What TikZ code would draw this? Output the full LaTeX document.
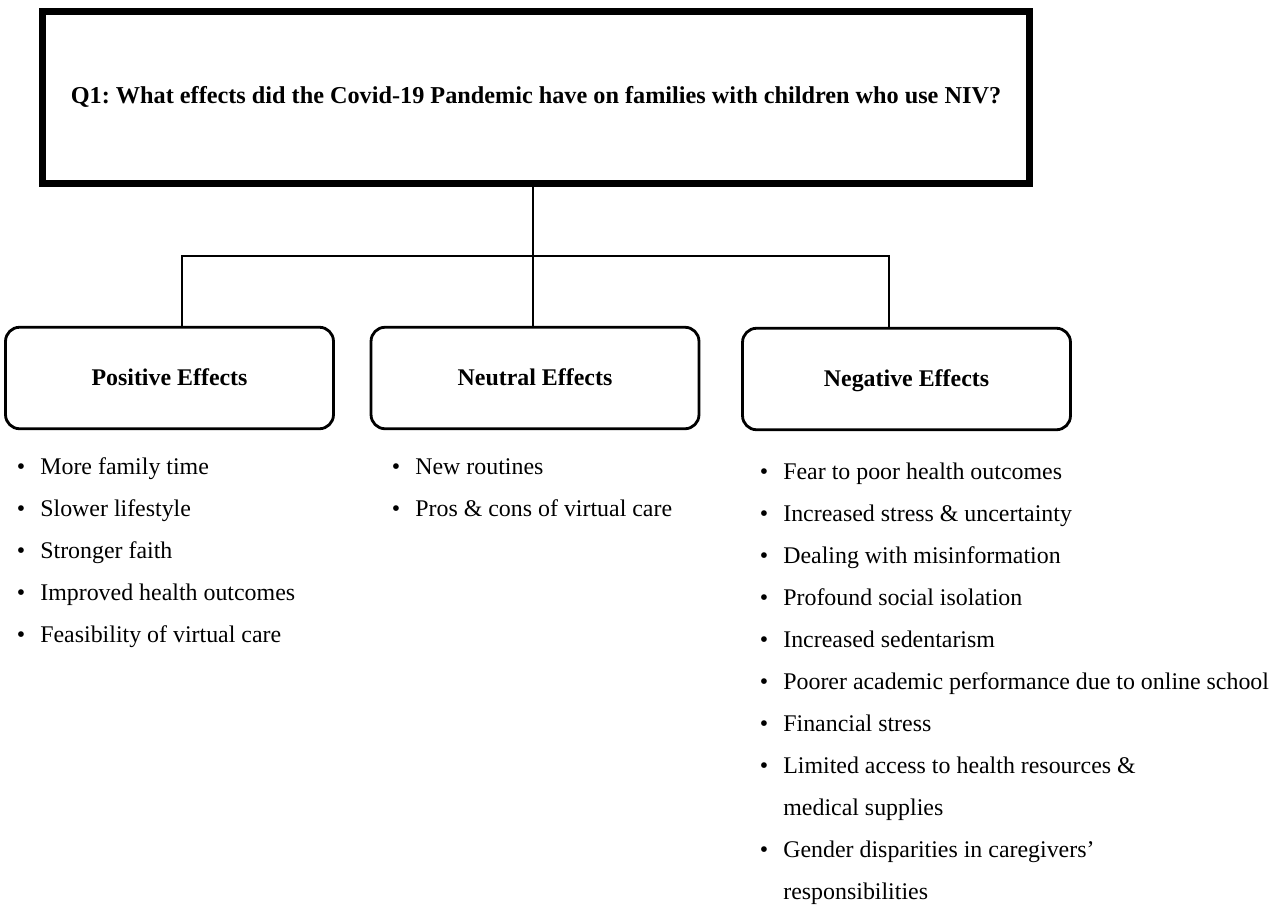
\documentclass[tikz,border=0pt]{standalone}
\usepackage{fontspec}
\setmainfont{Liberation Serif}
\usepackage{tikz}

\tikzset{
  txt/.style={font=\fontsize{13.6}{16}\selectfont},
  qbox/.style={font=\fontsize{13.8}{16}\selectfont,draw,line width=4pt,minimum width=19.76cm,minimum height=3.44cm,inner sep=0pt,text height=9.4pt,text depth=2pt},
  catbox/.style={txt,draw,line width=1.6pt,rounded corners=0.28cm,minimum width=6.56cm,minimum height=2.03cm,inner sep=0pt,text height=9pt,text depth=0pt},
  link/.style={line width=1.3pt},
  entry/.style={txt,anchor=base west,inner sep=0pt}
}

\begin{document}
\frenchspacing
\begin{tikzpicture}[x=0.02cm,y=-0.02cm]
\useasboundingbox (0,0) rectangle (1274,912);
\node[qbox] (q) at (536,97.5) {\textbf{Q1: What effects did the Covid-19 Pandemic have on families with children who use NIV?}};
\node[catbox] (pos) at (169.5,378) {\textbf{Positive Effects}};
\node[catbox] (neu) at (535,378) {\textbf{Neutral Effects}};
\node[catbox] (neg) at (906.5,379) {\textbf{Negative Effects}};
\coordinate (jl) at (182,256);
\coordinate (jc) at (533,256);
\coordinate (jr) at (889,256);
\draw[link] (q.south -| jc) -- (neu.north -| jc);
\draw[link] (pos.north -| jl) -- (jl) -- (jr) -- (neg.north -| jr);
\foreach \t [count=\i] in {More family time, Slower lifestyle, Stronger faith, Improved health outcomes, Feasibility of virtual care}
  \node[entry] (pos-\i) at (40,{432+42*\i}) {\llap{•\hspace{0.3cm}}\t};
\foreach \t [count=\i] in {New routines, Pros \& cons of virtual care}
  \node[entry] (neu-\i) at (415,{432+42*\i}) {\llap{•\hspace{0.3cm}}\t};
\foreach \t/\b [count=\i] in {Fear to poor health outcomes/1, Increased stress \& uncertainty/1, Dealing with misinformation/1, Profound social isolation/1, Increased sedentarism/1, Poorer academic performance due to online school/1, Financial stress/1, Limited access to health resources \&/1, medical supplies/0, Gender disparities in caregivers’/1, responsibilities/0}
  \node[entry] (neg-\i) at (783,{437+42*\i}) {\ifnum\b=1 \llap{•\hspace{0.3cm}}\fi\t};
\end{tikzpicture}
\end{document}
